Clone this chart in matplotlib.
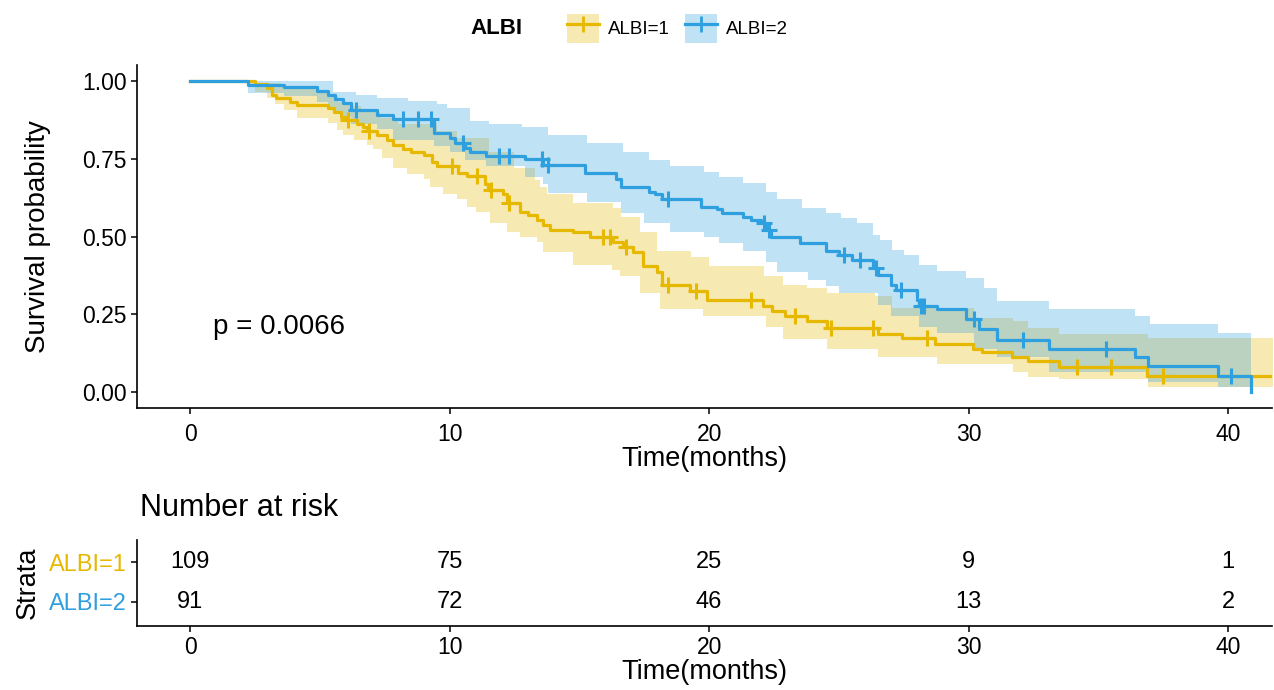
import numpy as np
import matplotlib.pyplot as plt
from matplotlib.patches import Patch
from matplotlib.lines import Line2D

plt.rcParams['font.family'] = ['Liberation Sans', 'DejaVu Sans']

# ---- data ----
groups = ['ALBI=1', 'ALBI=2']
colors = ['#E7B800', '#2E9FDF']

# ALBI=1 survival steps
t1 = [0, 2.5, 2.95, 3.15, 3.3, 3.85, 4.1, 5.3, 5.55, 5.8, 6.0, 6.45, 6.65, 6.8,
      7.2, 7.6, 7.8, 8.2, 8.5, 9.0, 9.33, 9.52, 10.33, 10.67, 11.37, 11.48, 12.06, 12.22,
      12.72, 13.03, 13.37, 13.6, 13.87, 14.76, 15.41, 16.3, 16.7, 17.07, 17.46, 18.0, 18.19, 19.27,
      19.92, 22.08, 22.43, 22.93, 23.78, 24.55, 26.5, 27.44, 28.71, 30.17, 30.52, 31.68, 32.29, 33.5,
      36.88, 42.0]
s1 = [1.0, 0.99, 0.977, 0.955, 0.945, 0.933, 0.923, 0.913, 0.90, 0.885, 0.875, 0.86, 0.85, 0.837,
      0.827, 0.81, 0.795, 0.782, 0.772, 0.763, 0.74, 0.725, 0.705, 0.693, 0.667, 0.65, 0.635, 0.609,
      0.58, 0.57, 0.554, 0.538, 0.522, 0.513, 0.50, 0.482, 0.466, 0.449, 0.404, 0.385, 0.346, 0.324,
      0.298, 0.276, 0.26, 0.244, 0.228, 0.205, 0.186, 0.176, 0.154, 0.138, 0.131, 0.115, 0.10, 0.083,
      0.054, 0.054]
cens1 = [6.1, 6.9, 10.1, 11.05, 11.6, 12.3, 15.9, 16.2, 16.8, 18.4, 19.5, 21.6, 23.3, 24.7,
         26.3, 28.4, 34.2, 35.5, 37.5]
up1_t = [0, 2.5, 3.5, 4.8, 5.3, 5.7, 6.2, 6.6, 7.3, 8.0, 9.5, 10.3, 11.5, 12.5,
         13.3, 13.5, 13.76, 14.76, 16.3, 16.6, 17.35, 18.0, 19.3, 20.0, 22.1, 22.85, 23.78, 24.55,
         26.4, 27.05, 30.2, 31.7, 32.3, 33.5, 36.9]
up1 = [1.0, 0.994, 0.98, 0.97, 0.95, 0.933, 0.92, 0.90, 0.88, 0.86, 0.837, 0.817, 0.77, 0.72,
       0.68, 0.66, 0.635, 0.609, 0.593, 0.564, 0.513, 0.452, 0.433, 0.404, 0.372, 0.346, 0.336, 0.32,
       0.308, 0.27, 0.24, 0.228, 0.208, 0.186, 0.173]
lo1_t = [0, 2.5, 2.95, 3.28, 3.6, 4.1, 5.3, 5.65, 5.9, 6.3, 6.8, 7.05, 7.4, 7.8,
         8.35, 9.0, 9.25, 9.75, 10.3, 10.67, 11.0, 11.55, 12.2, 12.7, 13.37, 13.6, 14.76, 16.26,
         16.57, 17.34, 18.1, 19.77, 22.2, 22.85, 24.55, 26.5, 28.8, 31.7, 32.3, 33.5, 36.9]
lo1 = [1.0, 0.965, 0.945, 0.925, 0.907, 0.88, 0.865, 0.843, 0.827, 0.81, 0.795, 0.78, 0.753, 0.72,
       0.70, 0.683, 0.66, 0.635, 0.62, 0.596, 0.58, 0.545, 0.516, 0.50, 0.484, 0.449, 0.41, 0.394,
       0.372, 0.32, 0.266, 0.244, 0.21, 0.17, 0.138, 0.115, 0.09, 0.067, 0.051, 0.042, 0.016]
end1 = 42.0

# ALBI=2 survival steps
t2 = [0, 2.24, 3.6, 4.9, 5.3, 5.6, 5.9, 6.2, 7.2, 7.8, 9.4, 10.0, 10.2, 10.6,
      10.8, 11.4, 12.9, 13.6, 15.2, 16.4, 16.6, 17.7, 17.9, 18.2, 19.7, 20.3, 20.5, 21.3,
      21.6, 22.0, 22.2, 22.4, 23.5, 24.5, 25.0, 25.5, 26.3, 26.5, 27.0, 27.2, 28.0, 28.1,
      28.8, 29.9, 30.4, 31.1, 33.1, 36.4, 36.9, 39.6, 40.9]
s2 = [1.0, 0.987, 0.98, 0.966, 0.955, 0.941, 0.929, 0.907, 0.891, 0.877, 0.833, 0.817, 0.80, 0.785,
      0.77, 0.758, 0.75, 0.728, 0.705, 0.683, 0.66, 0.644, 0.638, 0.619, 0.596, 0.587, 0.577, 0.564,
      0.554, 0.545, 0.522, 0.50, 0.48, 0.455, 0.442, 0.426, 0.40, 0.378, 0.346, 0.33, 0.298, 0.276,
      0.266, 0.234, 0.202, 0.168, 0.14, 0.112, 0.085, 0.052, 0.0]
cens2 = [6.4, 8.2, 8.8, 9.3, 10.5, 11.9, 12.3, 13.55, 13.8, 18.4, 22.1, 22.3, 25.2, 25.8,
         26.45, 27.4, 28.15, 28.3, 30.2, 32.1, 35.3, 40.1]
up2_t = [0, 5.5, 6.4, 7.2, 8.4, 9.5, 9.9, 10.8, 11.5, 12.8, 13.8, 15.3, 16.7, 17.7,
         18.5, 19.8, 20.4, 21.3, 22.2, 22.6, 23.6, 24.5, 25.1, 25.7, 26.3, 26.6, 27.05, 27.5,
         28.1, 28.8, 29.9, 30.6, 31.1, 33.1, 36.4, 37.0, 39.6]
up2 = [1.0, 0.965, 0.955, 0.945, 0.935, 0.925, 0.913, 0.87, 0.86, 0.85, 0.827, 0.80, 0.77, 0.747,
       0.725, 0.708, 0.69, 0.673, 0.644, 0.62, 0.593, 0.577, 0.56, 0.545, 0.506, 0.49, 0.458, 0.44,
       0.41, 0.388, 0.368, 0.336, 0.292, 0.266, 0.244, 0.218, 0.192]
lo2_t = [0, 2.24, 3.6, 4.9, 5.3, 5.6, 5.9, 6.2, 7.2, 7.8, 9.4, 10.0, 10.6, 11.4,
         12.9, 13.6, 13.8, 15.3, 16.6, 17.5, 18.5, 19.8, 20.4, 21.3, 22.2, 22.6, 23.8, 24.5,
         25.0, 26.5, 27.0, 28.1, 28.8, 30.2, 31.1, 33.1, 36.9, 39.6]
lo2 = [1.0, 0.96, 0.95, 0.93, 0.915, 0.9, 0.885, 0.86, 0.845, 0.81, 0.79, 0.77, 0.745, 0.725,
       0.69, 0.667, 0.64, 0.612, 0.577, 0.545, 0.516, 0.50, 0.48, 0.452, 0.417, 0.385, 0.362, 0.34,
       0.32, 0.28, 0.244, 0.21, 0.192, 0.138, 0.112, 0.065, 0.032, 0.016]
end2 = 40.9

risk_times = [0, 10, 20, 30, 40]
risk1 = [109, 75, 25, 9, 1]
risk2 = [91, 72, 46, 13, 2]
pval_text = 'p = 0.0066'


def step_at(tq, t, v):
    idx = np.searchsorted(np.asarray(t), tq, side='right') - 1
    return np.asarray(v)[idx]


fig = plt.figure(figsize=(12.74, 6.9), dpi=100)
ax = fig.add_axes([0.1075, 0.4087, 0.891, 0.497])
ax2 = fig.add_axes([0.1075, 0.0928, 0.891, 0.1246])

curves = [(t1, s1, cens1, up1_t, up1, lo1_t, lo1, end1),
          (t2, s2, cens2, up2_t, up2, lo2_t, lo2, end2)]

for (t, s, cens, ut, u, lt, l, end), col in zip(curves, colors):
    grid = np.union1d(np.union1d(ut, lt), [end])
    grid = grid[grid <= end]
    ax.fill_between(grid, step_at(grid, lt, l), step_at(grid, ut, u),
                    step='post', color=col, alpha=0.3, lw=0)
for (t, s, cens, ut, u, lt, l, end), col in zip(curves, colors):
    ax.step(t, s, where='post', color=col, lw=2.3)
    ax.plot(cens, step_at(np.array(cens), t, s), ls='none', marker='+',
            ms=12, mew=2.2, color=col)

ax.text(0.9, 0.21, pval_text, fontsize=20, va='center', ha='left')

ax.set_xlim(-2.05, 41.7)
ax.set_ylim(-0.05, 1.05)
ax.set_xticks([0, 10, 20, 30, 40])
ax.set_yticks([0, 0.25, 0.5, 0.75, 1.0])
ax.set_yticklabels(['0.00', '0.25', '0.50', '0.75', '1.00'])
ax.set_xlabel('Time(months)', fontsize=19.5, labelpad=0)
ax.set_ylabel('Survival probability', fontsize=20, labelpad=22)

# risk table
for row, vals in zip([2, 1], [risk1, risk2]):
    for x, v in zip(risk_times, vals):
        ax2.text(x, row, str(v), fontsize=17, ha='center', va='center')
ax2.set_xlim(-2.05, 41.7)
ax2.set_ylim(0.38, 2.57)
ax2.set_xticks([0, 10, 20, 30, 40])
ax2.set_yticks([2, 1])
ax2.set_yticklabels(groups)
for lab, col in zip(ax2.get_yticklabels(), colors):
    lab.set_color(col)
ax2.set_xlabel('Time(months)', fontsize=19.5, labelpad=0)
ax2.set_ylabel('Strata', fontsize=19.5, labelpad=6)
fig.text(0.11, 0.264, 'Number at risk', fontsize=22, va='center', ha='left')

for a in (ax, ax2):
    for side in ('top', 'right'):
        a.spines[side].set_visible(False)
    a.spines['left'].set_linewidth(1.2)
    a.spines['bottom'].set_linewidth(1.2)
    a.tick_params(labelsize=16.5, length=4, width=1.1, color='black')
ax.tick_params(axis='x', pad=7)
ax2.tick_params(axis='y', labelsize=17)

# legend on top
handles = [(Patch(facecolor=c, alpha=0.3, edgecolor='none'),
            Line2D([], [], color=c, lw=2.3, marker='+', ms=12, mew=2.0)) for c in colors]
fig.text(0.39, 0.959, 'ALBI', fontsize=16, weight='bold', ha='center', va='center')
fig.legend(handles, groups, loc='center', bbox_to_anchor=(0.532, 0.959), ncol=2,
           frameon=False, fontsize=13.5, handlelength=1.7, handleheight=2.0,
           handletextpad=0.5, columnspacing=0.8)

plt.savefig('out.png', dpi=100)
